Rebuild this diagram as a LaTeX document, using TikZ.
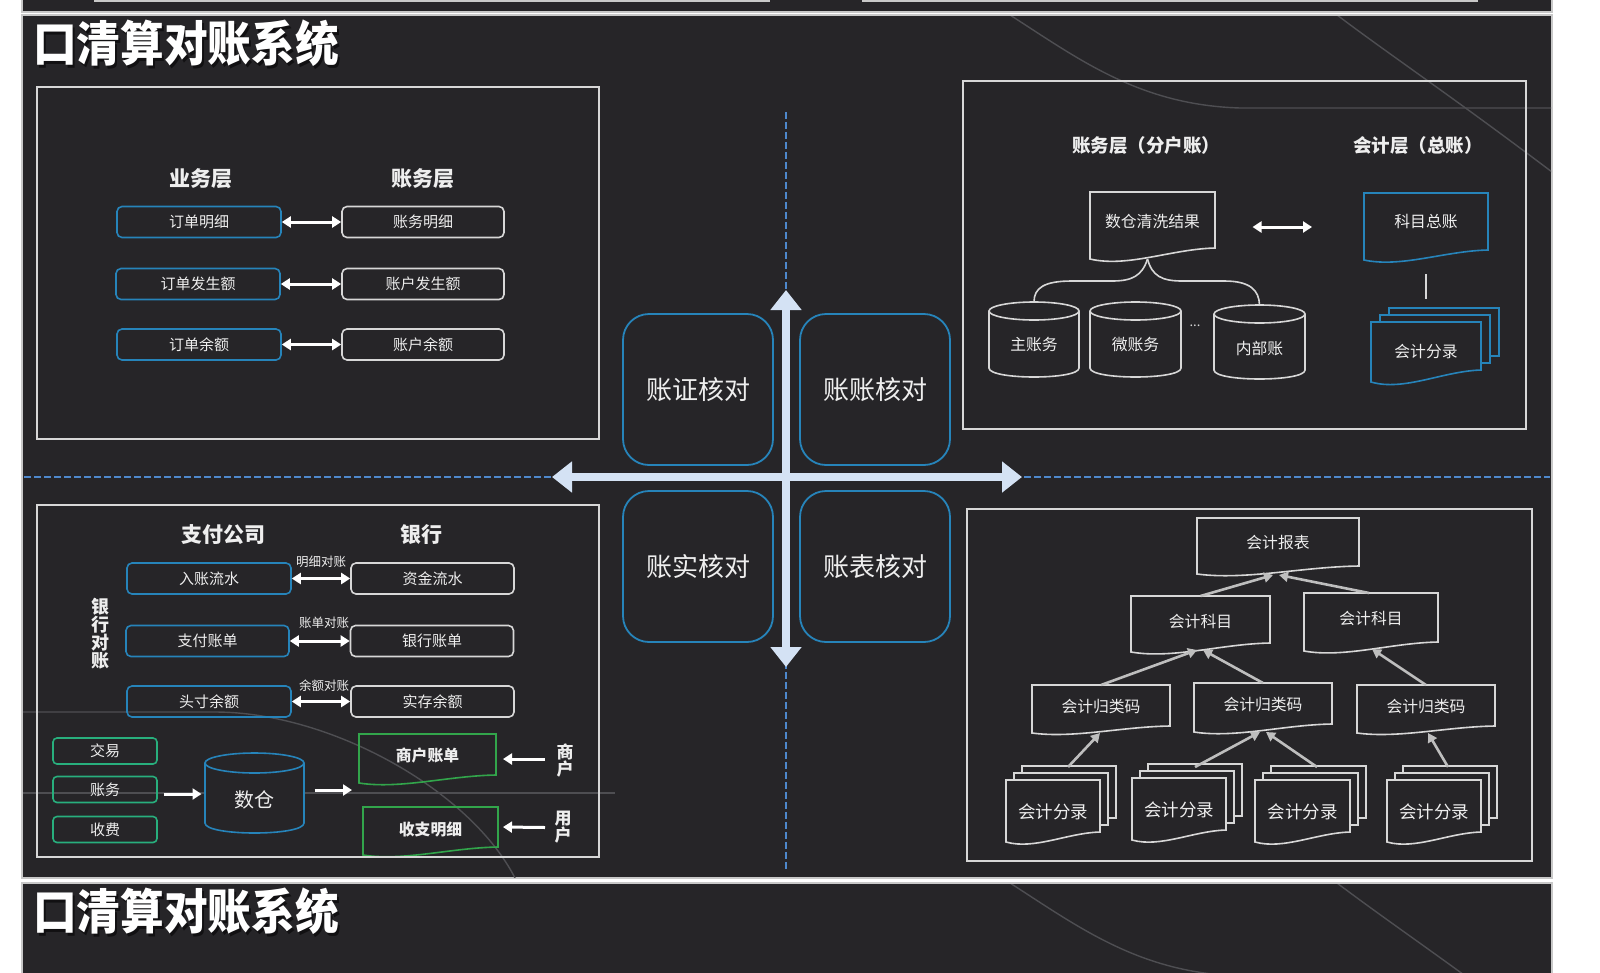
\documentclass[tikz,border=0pt]{standalone}
\usepackage{fontspec}
\setmainfont{Noto Sans CJK SC}
\usetikzlibrary{calc,arrows.meta}
\pgfdeclarelayer{bgl}
\pgfdeclarelayer{mid}
\pgfsetlayers{bgl,mid,main}
\definecolor{bg}{RGB}{38,37,40}
\definecolor{panelline}{RGB}{200,200,200}
\definecolor{txt}{RGB}{238,238,238}
\definecolor{boxw}{RGB}{215,215,215}
\definecolor{bluebox}{RGB}{38,132,186}
\definecolor{greenbox}{RGB}{40,175,125}
\definecolor{greendoc}{RGB}{50,165,75}
\definecolor{axisblue}{RGB}{78,136,204}
\definecolor{axislight}{RGB}{212,226,244}
\definecolor{arrgray}{RGB}{190,190,190}
\definecolor{decocol}{RGB}{78,78,82}
\newcommand\fs[1]{\fontsize{#1}{#1}\selectfont}
% document shape around a node centre: [opts]{name}{colour}{half width}{up}{down}{wave}
\newcommand\docshape[7][]{%
  \begin{pgfonlayer}{mid}
  \draw[draw=#3, line width=1.6pt, #1]
   ($(#2)+(-#4,-#5)$) -- ($(#2)+(#4,-#5)$) -- ($(#2)+(#4,#6)$)
   .. controls ($(#2)+({0.3*#4},{#6+0.1*#7})$) and ($(#2)+({-0.4*#4},{#6+1.8*#7})$)
   .. ($(#2)+(-#4,{#6+#7})$) -- cycle;
  \end{pgfonlayer}}
% multi document: {name}{colour}{half width}{up}{down}{wave}{x offset}
\newcommand\mdocshape[7]{%
  \begin{pgfonlayer}{mid}
  \draw[draw=#2, line width=1.6pt, fill=bg] ($(#1)+({-#3+2*#7},{-#4-14})$) rectangle ($(#1)+({#3+2*#7},{#5-14})$);
  \draw[draw=#2, line width=1.6pt, fill=bg] ($(#1)+({-#3+#7},{-#4-7})$) rectangle ($(#1)+({#3+#7},{#5-7})$);
  \end{pgfonlayer}%
  \docshape[fill=bg]{#1}{#2}{#3}{#4}{#5}{#6}}
% cylinder: {name}{colour}{half width}{up}{down}{ry}
\newcommand\cylshape[6]{%
  \begin{pgfonlayer}{mid}
  \draw[draw=#2, line width=1.6pt, fill=bg] ($(#1)+(-#3,{-#4+#6})$) -- ($(#1)+(-#3,{#5-#6})$)
   .. controls ($(#1)+(-#3,{#5+#6/3})$) and ($(#1)+(#3,{#5+#6/3})$) .. ($(#1)+(#3,{#5-#6})$)
   -- ($(#1)+(#3,{-#4+#6})$);
  \draw[draw=#2, line width=1.6pt, fill=bg] ($(#1)+(0,{-#4+#6})$) ellipse [x radius=#3, y radius=#6];
  \end{pgfonlayer}}
\begin{document}
\begin{tikzpicture}[x=1pt,y=-1pt,
  every node/.style={text=txt, inner sep=0pt},
  bframe/.style={draw=boxw, line width=1.8pt},
  rowb/.style={draw=bluebox, line width=1.6pt, rounded corners=5pt, minimum width=164pt, minimum height=31pt, font=\fs{15}},
  roww/.style={rowb, draw=boxw, minimum width=162pt},
  hdr/.style={font=\bfseries\fs{21}},
  hdrs/.style={font=\bfseries\fs{18.5}},
  quad/.style={draw=bluebox, line width=1.8pt, rounded corners=26pt, minimum width=150pt, minimum height=151pt, font=\fs{26}},
  gbox/.style={draw=greenbox, line width=1.6pt, rounded corners=4pt, minimum width=104pt, minimum height=26pt, font=\fs{15}},
  dtext/.style={font=\fs{15.8}},
  ftext/.style={font=\fs{17.5}},
  lbl/.style={font=\fs{12.5}},
  dbl/.style={{Triangle[width=11pt,length=9pt]}-{Triangle[width=11pt,length=9pt]}, line width=3pt, draw=white},
  sgl/.style={-{Triangle[width=11pt,length=9pt]}, line width=3pt, draw=white},
  garr/.style={-{Triangle[width=10pt,length=9pt]}, line width=2.6pt, draw=arrgray},
  axisd/.style={draw=axisblue, line width=2.6pt, dash pattern=on 7pt off 3pt},
  axisa/.style={{Triangle[width=30pt,length=20pt]}-{Triangle[width=30pt,length=20pt]}, line width=8pt, draw=axislight},
  deco/.style={draw=decocol, line width=1.4pt},
  panel/.style={fill=bg, draw=panelline, line width=2.2pt},
  thinw/.style={draw=boxw, line width=1.6pt},
  ttl/.style={anchor=west, font=\bfseries\fs{48}}
]
\useasboundingbox (0,0) rectangle (1600,972);
\begin{pgfonlayer}{bgl}
 \fill[white] (0,0) rectangle (1600,972);
 \draw[panel] (22,-10) rectangle (1552,12);
 \draw[line width=2pt, draw=panelline] (94,1) -- (770,1) (862,1) -- (1478,1);
 \draw[panel] (22,15) rectangle (1552,878);
 \draw[panel] (22,883) rectangle (1552,990);
 \begin{scope}
  \clip (23,16) rectangle (1551,877);
  \draw[deco] (1010,15) .. controls (1080,60) and (1140,105) .. (1240,108) -- (1552,108);
  \draw[deco] (1337,15) .. controls (1390,55) and (1450,95) .. (1552,172);
  \draw[deco] (22,712) -- (215,712) .. controls (330,712) and (470,790) .. (515,878);
  \draw[deco] (22,793) -- (615,793);
 \end{scope}
 \begin{scope}
  \clip (23,884) rectangle (1551,972);
  \draw[deco] (1010,883) .. controls (1080,928) and (1140,973) .. (1240,976);
  \draw[deco] (1337,883) .. controls (1390,923) and (1450,963) .. (1552,1040);
 \end{scope}
\end{pgfonlayer}

% titles
\node[ttl, text=black, opacity=0.55] (tsh) at (35,46) {\scalebox{0.91}[1]{口清算对账系统}};
\node[ttl, text=white] (title) at (33,43) {\scalebox{0.91}[1]{口清算对账系统}};
\node[ttl, text=black, opacity=0.55] (tsh2) at (35,914) {\scalebox{0.91}[1]{口清算对账系统}};
\node[ttl, text=white] (title2) at (33,911) {\scalebox{0.91}[1]{口清算对账系统}};

% axes
\draw[axisd] (24,477) -- (1550,477);
\draw[axisd] (786,112) -- (786,869);
\coordinate (axL) at (552,477);
\coordinate (axR) at (1022,477);
\coordinate (axT) at (786,290);
\coordinate (axB) at (786,667);
\draw[axisa] (axL) -- (axR);
\draw[axisa] (axT) -- (axB);

% quadrants
\node[quad] (q1) at (698,389.5) {账证核对};
\node[quad] (q2) at (875,389.5) {账账核对};
\node[quad] (q3) at (698,566.5) {账实核对};
\node[quad] (q4) at (875,566.5) {账表核对};

% ---------- top left ----------
\node[bframe, minimum width=562pt, minimum height=352pt] (tlf) at (318,263) {};
\node[hdr] (h1) at (201,179) {业务层};
\node[hdr] (h2) at (423,179) {账务层};
\node[rowb] (o1) at (199,222) {订单明细};
\node[roww] (a1) at (423,222) {账务明细};
\node[rowb] (o2) at (198,284) {订单发生额};
\node[roww] (a2) at (423,284) {账户发生额};
\node[rowb] (o3) at (199,344.5) {订单余额};
\node[roww] (a3) at (423,344.5) {账户余额};
\draw[dbl] (o1) -- (a1);
\draw[dbl] (o2) -- (a2);
\draw[dbl] (o3) -- (a3);

% ---------- top right ----------
\node[bframe, minimum width=563pt, minimum height=348pt] (trf) at (1244.5,255) {};
\node[hdrs] (h3) at (1146,146) {账务层（分户账）};
\node[hdrs] (h4) at (1418,146) {会计层（总账）};
\node[dtext] (sq) at (1152.5,222) {数仓清洗结果};
\docshape{sq}{boxw}{62.5}{30}{26}{11}
\node[dtext] (kmz) at (1426,222) {科目总账};
\docshape{kmz}{bluebox}{62}{29}{28}{10}
\node[dtext] (kfl) at (1426,352) {会计分录};
\mdocshape{kfl}{bluebox}{55}{30}{18}{12}{9}
\draw[dbl] ($(sq)+(100,5)$) -- ($(kmz)+(-114,5)$);
\draw[thinw] ($(kmz)+(0,52)$) -- ($(kfl)+(0,-53)$);
\node[dtext] (zz) at (1034,345) {主账务};
\cylshape{zz}{boxw}{45}{43}{32}{9}
\node[dtext] (wz) at (1135.5,345) {微账务};
\cylshape{wz}{boxw}{45.5}{43}{32}{9}
\node[dtext] (nb) at (1259.5,348) {内部账};
\cylshape{nb}{boxw}{45.5}{43}{31}{9}
\node[font=\fs{13}, text=boxw] (dots) at (1195,326) {...};
\draw[thinw] ($(sq)+(-5,37)$) .. controls (1142,276) and (1132,281) .. (1112,281) -- (1072,281) .. controls (1044,281) and (1034,288) .. ($(zz)+(0,-43)$);
\draw[thinw] ($(sq)+(-5,37)$) .. controls (1152,276) and (1162,281) .. (1182,281) -- (1224,281) .. controls (1250,281) and (1259,290) .. ($(nb)+(0,-43)$);

% ---------- bottom left ----------
\node[bframe, minimum width=562pt, minimum height=352pt] (blf) at (318,681) {};
\node[hdr] (h5) at (223,535) {支付公司};
\node[hdr] (h6) at (421,535) {银行};
\node[font=\bfseries\fs{18}, align=center] (yhdz) at (100,633.5) {银\\行\\对\\账};
\node[rowb] (p1) at (209,578.5) {入账流水};
\node[roww, minimum width=163pt] (b1) at (432.5,578.5) {资金流水};
\node[rowb, minimum width=163pt] (p2) at (207.5,641) {支付账单};
\node[roww, minimum width=163pt] (b2) at (432,641) {银行账单};
\node[rowb] (p3) at (209,701.5) {头寸余额};
\node[roww, minimum width=163pt] (b3) at (432.5,701.5) {实存余额};
\draw[dbl] (p1) -- (b1);
\draw[dbl] (p2) -- (b2);
\draw[dbl] (p3) -- (b3);
\node[lbl] (l1) at (321,562) {明细对账};
\node[lbl] (l2) at (324,623) {账单对账};
\node[lbl] (l3) at (324,686) {余额对账};
\node[gbox] (jy) at (105,751) {交易};
\node[gbox] (zw) at (105,789.5) {账务};
\node[gbox] (sf) at (105,829.5) {收费};
\node[font=\fs{20}] (dw) at (254.5,800) {数仓};
\cylshape{dw}{bluebox}{49.5}{47}{33}{10}
\draw[sgl] ($(zw.east)+(6,4.5)$) -- ($(dw)+(-53,-6)$);
\node[font=\bfseries\fs{15.8}] (shzd) at (427.5,756) {商户账单};
\docshape{shzd}{greendoc}{68.5}{22}{19}{8}
\node[font=\bfseries\fs{15.8}] (szmx) at (430.5,830) {收支明细};
\docshape{szmx}{greendoc}{67.5}{23}{17}{8}
\draw[sgl] ($(dw)+(60,-10)$) -- ($(shzd)!0.5!(szmx)+(-77,-3)$);
\node[font=\bfseries\fs{17}, align=center] (shl) at (565,761) {商\\户};
\node[font=\bfseries\fs{17}, align=center] (yhl) at (563,827.5) {用\\户};
\draw[sgl] ($(shl)+(-20,-2)$) -- ($(shzd)+(75.5,3)$);
\draw[sgl] ($(yhl)+(-18,0)$) -- ($(szmx)+(72.5,-3)$);

% ---------- bottom right ----------
\node[bframe, minimum width=565pt, minimum height=352pt] (brf) at (1249.5,685) {};
\node[dtext] (bb) at (1278,543) {会计报表};
\docshape{bb}{boxw}{81}{25}{23}{8}
\node[dtext] (kmL) at (1200.5,621) {会计科目};
\docshape{kmL}{boxw}{69.5}{25}{22}{9}
\node[dtext] (kmR) at (1371,618) {会计科目};
\docshape{kmR}{boxw}{67}{25}{24}{9}
\node[dtext] (gl1) at (1101,707) {会计归类码};
\docshape{gl1}{boxw}{69}{22}{19}{7}
\node[dtext] (gl2) at (1263,705) {会计归类码};
\docshape{gl2}{boxw}{69}{22}{19}{8}
\node[dtext] (gl3) at (1426,707) {会计归类码};
\docshape{gl3}{boxw}{69}{22}{19}{7}
\node[ftext] (fl1) at (1053,812) {会计分录};
\mdocshape{fl1}{boxw}{47}{32}{20}{10}{8}
\node[ftext] (fl2) at (1179,810) {会计分录};
\mdocshape{fl2}{boxw}{47}{32}{20}{10}{8}
\node[ftext] (fl3) at (1302.5,812) {会计分录};
\mdocshape{fl3}{boxw}{47.5}{32}{20}{10}{8}
\node[ftext] (fl4) at (1434,812) {会计分录};
\mdocshape{fl4}{boxw}{47}{32}{20}{10}{8}
\draw[garr] ($(kmL)+(0,-25)$) -- ($(bb)+(-5,32)$);
\draw[garr] ($(kmR)+(-2,-25)$) -- ($(bb)+(1,32)$);
\draw[garr] ($(gl1)+(0,-22)$) -- ($(kmL)+(-3.5,29)$);
\draw[garr] ($(gl2)+(0,-22)$) -- ($(kmL)+(2.5,29)$);
\draw[garr] ($(gl3)+(0,-22)$) -- ($(kmR)+(1,31)$);
\draw[garr] ($(fl1)+(15,-45)$) -- ($(gl1)+(-1,26)$);
\draw[garr] ($(fl2)+(16,-43)$) -- ($(gl2)+(-3,27)$);
\draw[garr] ($(fl3)+(14.5,-45)$) -- ($(gl2)+(3,27)$);
\draw[garr] ($(fl4)+(14,-45)$) -- ($(gl3)+(2,26)$);
\end{tikzpicture}
\end{document}
